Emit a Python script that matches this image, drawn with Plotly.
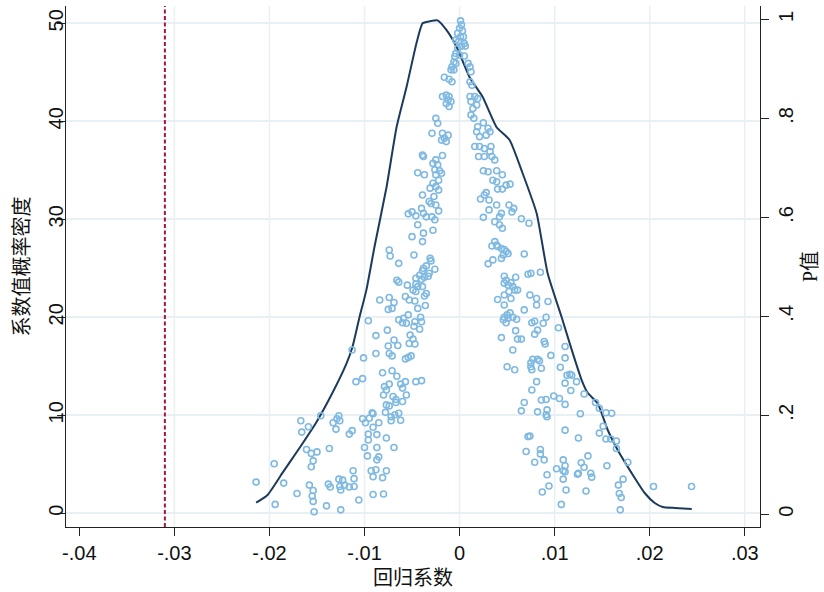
import plotly.graph_objects as go

# ---------------- data ----------------
# kernel density of the placebo coefficients (left axis)
dens_x = [-0.0214, -0.0202, -0.01863, -0.01684, -0.01505, -0.01337, -0.01189, -0.01126, -0.01053, -0.0098,
          -0.00895, -0.00768, -0.00663, -0.00558, -0.00453, -0.00389, -0.00316, -0.00232, -0.00137, -0.00032,
          0.00105, 0.00242, 0.00389, 0.00526, 0.00663, 0.00811, 0.00926, 0.01074, 0.01179, 0.01284,
          0.01347, 0.01453, 0.01558, 0.01663, 0.0181, 0.01947, 0.02053, 0.02137, 0.02263, 0.02442]
dens_y = [1.08, 1.87, 4.12, 6.66, 9.32, 12.3, 15.3, 17.0, 20.0, 22.8,
          27.2, 33.3, 39.4, 43.5, 48.0, 50.0, 50.2, 50.3, 49.3, 47.6,
          44.5, 42.5, 39.4, 38.1, 34.7, 30.6, 24.5, 20.0, 16.7, 13.6,
          12.3, 11.2, 8.5, 6.46, 4.1, 2.07, 1.05, 0.64, 0.54, 0.44]

# placebo coefficients and their p-values (right axis), upper part
coef_top = [0.0001, 0.0002, 0.0000, 0.0003, -0.0002, 0.0001, 0.0004, -0.0004, -0.0001, 0.0005,
            0.0002, -0.0002, 0.0006, -0.0004, -0.0005, 0.0000, 0.0005, -0.0006, -0.0004, -0.0008,
            0.0009, 0.0011, -0.0009, -0.0006, 0.0012, -0.0016, -0.0011, -0.0008, 0.0011, 0.0013,
            -0.0018, -0.0014, -0.0011, -0.0012, -0.0009, -0.0014, -0.0011, 0.0011, 0.0016, 0.0019,
            0.0012, 0.0018, 0.0014, -0.0025, -0.0023, -0.0029, -0.0018, -0.0012, -0.0016, -0.0019,
            -0.0014, 0.0012, 0.0015, 0.0025, 0.0019, 0.0018, 0.0030, 0.0032, 0.0028, 0.0021,
            0.0016, 0.0021, 0.0026, 0.0033, 0.0032, 0.0020, 0.0026, 0.0034, 0.0037, -0.0039,
            -0.0038, -0.0018, -0.0025, -0.0028, -0.0023, -0.0026, -0.0021, -0.0044, -0.0037, -0.0025,
            -0.0019, -0.0022, -0.0028, -0.0025, -0.0031, -0.0022, -0.0039, -0.0027, -0.0032, -0.0030,
            -0.0025, -0.0022, -0.0054, -0.0050, -0.0046, -0.0040, -0.0038, -0.0035, -0.0029, -0.0026,
            0.0025, 0.0030, 0.0039, 0.0045, 0.0035, 0.0039, 0.0040, 0.0045, 0.0049, 0.0053,
            0.0022, 0.0026, 0.0028, 0.0031, 0.0039, 0.0044, 0.0042, 0.0052, 0.0057, 0.0055,
            0.0031, 0.0025, 0.0037, 0.0042, 0.0045, 0.0065, 0.0073, -0.0044, -0.0038, -0.0028, -0.0050]
p_top = [0.997, 0.989, 0.982, 0.977, 0.972, 0.965, 0.965, 0.958, 0.955, 0.951,
         0.946, 0.941, 0.946, 0.931, 0.925, 0.928, 0.926, 0.914, 0.911, 0.904,
         0.911, 0.904, 0.898, 0.898, 0.894, 0.883, 0.879, 0.874, 0.874, 0.867,
         0.844, 0.847, 0.844, 0.837, 0.834, 0.830, 0.824, 0.844, 0.844, 0.840,
         0.834, 0.827, 0.820, 0.800, 0.790, 0.770, 0.770, 0.766, 0.760, 0.756,
         0.753, 0.807, 0.800, 0.791, 0.783, 0.773, 0.780, 0.773, 0.766, 0.763,
         0.743, 0.743, 0.739, 0.743, 0.733, 0.723, 0.723, 0.723, 0.716, 0.726,
         0.723, 0.725, 0.716, 0.709, 0.706, 0.696, 0.694, 0.690, 0.686, 0.686,
         0.689, 0.675, 0.669, 0.662, 0.659, 0.655, 0.645, 0.642, 0.632, 0.628,
         0.625, 0.613, 0.607, 0.611, 0.603, 0.618, 0.608, 0.601, 0.601, 0.595,
         0.694, 0.692, 0.694, 0.686, 0.675, 0.672, 0.657, 0.657, 0.665, 0.667,
         0.637, 0.645, 0.650, 0.635, 0.625, 0.608, 0.601, 0.625, 0.618, 0.611,
         0.615, 0.600, 0.591, 0.585, 0.578, 0.597, 0.588, 0.585, 0.568, 0.574, 0.561]

# lower-left branch
coef_left = [-0.0074, -0.0073, -0.0048, -0.0039, -0.0064, -0.0031, -0.0030, -0.0035, -0.0038, -0.0039,
             -0.0026, -0.0032, -0.0042, -0.0046, -0.0040, -0.0037, -0.0033, -0.0066, -0.0064, -0.0055,
             -0.0046, -0.0044, -0.0049, -0.0039, -0.0046, -0.0035, -0.0037, -0.0074, -0.0084, -0.0069,
             -0.0057, -0.0053, -0.0047, -0.0075, -0.0071, -0.0044, -0.0036, -0.0096, -0.0064, -0.0059,
             -0.0054, -0.0056, -0.0060, -0.0047, -0.0041, -0.0040, -0.0048, -0.0042, -0.0076, -0.0088,
             -0.0052, -0.0069, -0.0049, -0.0053, -0.0047, -0.0075, -0.0065, -0.0088, -0.0074, -0.0071,
             -0.0101, -0.0057, -0.0054, -0.0051, -0.0113, -0.0081, -0.0071, -0.0066, -0.0109, -0.0102,
             -0.0079, -0.0074, -0.0077, -0.0062, -0.0057, -0.0046, -0.0040, -0.0060, -0.0080, -0.0056,
             -0.0070, -0.0067, -0.0067, -0.0060, -0.0077, -0.0074, -0.0078, -0.0072, -0.0068, -0.0064,
             -0.0062, -0.0072, -0.0092, -0.0091, -0.0102, -0.0099, -0.0095, -0.0085, -0.0091, -0.0127,
             -0.0129, -0.0133, -0.0126, -0.0130, -0.0146, -0.0159, -0.0167, -0.0166, -0.0116, -0.0113,
             -0.0096, -0.0096, -0.0087, -0.0077, -0.0100, -0.0087, -0.0069, -0.0097, -0.0087, -0.0085,
             -0.0137, -0.0161, -0.0156, -0.0150, -0.0154, -0.0156, -0.0195, -0.0214, -0.0185, -0.0194,
             -0.0171, -0.0158, -0.0154, -0.0155, -0.0154, -0.0153, -0.0140, -0.0125, -0.0138, -0.0136,
             -0.0127, -0.0123, -0.0126, -0.0125, -0.0121, -0.0116, -0.0111, -0.0111, -0.0112, -0.0106,
             -0.0093, -0.0088, -0.0091, -0.0081, -0.0077, -0.0091, -0.0080]
p_left = [0.534, 0.522, 0.524, 0.551, 0.507, 0.517, 0.512, 0.502, 0.497, 0.492,
          0.495, 0.487, 0.483, 0.477, 0.475, 0.479, 0.481, 0.473, 0.469, 0.463,
          0.465, 0.460, 0.453, 0.460, 0.450, 0.446, 0.441, 0.438, 0.433, 0.428,
          0.440, 0.433, 0.431, 0.414, 0.416, 0.416, 0.422, 0.391, 0.393, 0.396,
          0.403, 0.386, 0.387, 0.389, 0.398, 0.389, 0.380, 0.374, 0.372, 0.361,
          0.362, 0.352, 0.354, 0.345, 0.344, 0.340, 0.341, 0.325, 0.325, 0.320,
          0.316, 0.314, 0.317, 0.320, 0.332, 0.286, 0.290, 0.279, 0.268, 0.274,
          0.258, 0.263, 0.251, 0.263, 0.268, 0.268, 0.270, 0.255, 0.241, 0.241,
          0.238, 0.232, 0.226, 0.228, 0.221, 0.219, 0.206, 0.197, 0.201, 0.204,
          0.190, 0.189, 0.205, 0.203, 0.193, 0.185, 0.194, 0.185, 0.176, 0.199,
          0.193, 0.185, 0.189, 0.172, 0.199, 0.177, 0.189, 0.166, 0.162, 0.169,
          0.162, 0.150, 0.161, 0.154, 0.135, 0.135, 0.135, 0.118, 0.110, 0.116,
          0.133, 0.131, 0.123, 0.126, 0.108, 0.096, 0.102, 0.065, 0.063, 0.020,
          0.042, 0.059, 0.048, 0.037, 0.026, 0.005, 0.017, 0.009, 0.061, 0.055,
          0.071, 0.069, 0.056, 0.049, 0.059, 0.055, 0.056, 0.072, 0.088, 0.029,
          0.088, 0.090, 0.076, 0.074, 0.088, 0.040, 0.041]

# lower-right branch
coef_right = [0.0037, 0.0039, 0.0034, 0.0040, 0.0044, 0.0047, 0.0049, 0.0051, 0.0046, 0.0044,
              0.0035, 0.0030, 0.0068, 0.0072, 0.0075, 0.0085, 0.0047, 0.0049, 0.0047, 0.0051,
              0.0054, 0.0056, 0.0059, 0.0058, 0.0061, 0.0052, 0.0047, 0.0054, 0.0040, 0.0047,
              0.0074, 0.0081, 0.0081, 0.0093, 0.0068, 0.0053, 0.0050, 0.0047, 0.0046, 0.0049,
              0.0051, 0.0056, 0.0060, 0.0076, 0.0079, 0.0088, 0.0091, 0.0082, 0.0079, 0.0059,
              0.0044, 0.0061, 0.0065, 0.0104, 0.0089, 0.0090, 0.0056, 0.0111, 0.0077, 0.0075,
              0.0082, 0.0084, 0.0075, 0.0076, 0.0086, 0.0050, 0.0058, 0.0096, 0.0111, 0.0106,
              0.0113, 0.0116, 0.0118, 0.0111, 0.0123, 0.0081, 0.0076, 0.0117, 0.0131, 0.0099,
              0.0105, 0.0086, 0.0091, 0.0068, 0.0065, 0.0082, 0.0092, 0.0091, 0.0092, 0.0111,
              0.0127, 0.0143, 0.0147, 0.0154, 0.0160, 0.0151, 0.0147, 0.0154, 0.0159, 0.0165,
              0.0165, 0.0177, 0.0111, 0.0125, 0.0074, 0.0072, 0.0070, 0.0085, 0.0085, 0.0079,
              0.0089, 0.0102, 0.0109, 0.0111, 0.0109, 0.0111, 0.0092, 0.0109, 0.0124, 0.0125,
              0.0128, 0.0131, 0.0135, 0.0138, 0.0139, 0.0155, 0.0172, 0.0167, 0.0168, 0.0170,
              0.0094, 0.0087, 0.0112, 0.0133, 0.0107, 0.0169, 0.0204, 0.0244]
p_right = [0.551, 0.544, 0.542, 0.541, 0.537, 0.535, 0.531, 0.527, 0.524, 0.517,
           0.514, 0.506, 0.526, 0.485, 0.487, 0.489, 0.481, 0.473, 0.467, 0.463,
           0.468, 0.460, 0.479, 0.453, 0.453, 0.450, 0.443, 0.436, 0.434, 0.423,
           0.443, 0.436, 0.423, 0.430, 0.413, 0.407, 0.403, 0.398, 0.393, 0.387,
           0.396, 0.398, 0.394, 0.387, 0.390, 0.386, 0.398, 0.372, 0.364, 0.371,
           0.357, 0.354, 0.354, 0.377, 0.349, 0.344, 0.332, 0.339, 0.313, 0.306,
           0.313, 0.310, 0.298, 0.292, 0.295, 0.298, 0.292, 0.321, 0.316, 0.297,
           0.281, 0.283, 0.281, 0.265, 0.268, 0.268, 0.251, 0.250, 0.243, 0.239,
           0.234, 0.231, 0.232, 0.226, 0.209, 0.207, 0.211, 0.201, 0.197, 0.222,
           0.203, 0.226, 0.214, 0.205, 0.204, 0.178, 0.164, 0.152, 0.152, 0.148,
           0.133, 0.105, 0.170, 0.154, 0.158, 0.157, 0.127, 0.131, 0.122, 0.105,
           0.110, 0.092, 0.110, 0.098, 0.088, 0.086, 0.080, 0.071, 0.081, 0.083,
           0.104, 0.095, 0.118, 0.083, 0.075, 0.098, 0.071, 0.059, 0.042, 0.034,
           0.057, 0.045, 0.049, 0.047, 0.020, 0.009, 0.056, 0.056]

true_coef = -0.031          # actual estimate (red dashed line)

x_ticks = [-0.04, -0.03, -0.02, -0.01, 0.0, 0.01, 0.02, 0.03]
x_labels = ["-.04", "-.03", "-.02", "-.01", "0", ".01", ".02", ".03"]
x_grid = [-0.03, -0.02, -0.01, 0.0, 0.01, 0.02, 0.03]
y_ticks = [0, 10, 20, 30, 40, 50]
y2_ticks = [0, 0.2, 0.4, 0.6, 0.8, 1.0]
y2_labels = ["0", ".2", ".4", ".6", ".8", "1"]

coef_all = coef_top + coef_left + coef_right
p_all = p_top + p_left + p_right

# ---------------- figure ----------------
GRID = "#E9F0F3"
TICKFONT = dict(family="Liberation Sans, Arial, sans-serif", size=20, color="#111111")
TITLEFONT = dict(family="Liberation Serif, Noto Sans CJK SC, serif", size=20, color="#111111")

fig = go.Figure()

fig.add_trace(go.Scatter(
    x=coef_all, y=p_all, yaxis="y2", mode="markers",
    marker=dict(symbol="circle-open", size=6, color="#7FB9E2", line=dict(width=1.6, color="#7FB9E2")),
    showlegend=False, hoverinfo="skip"))

fig.add_trace(go.Scatter(
    x=dens_x, y=dens_y, mode="lines",
    line=dict(color="#1B3A5C", width=2, shape="spline", smoothing=0.5),
    showlegend=False, hoverinfo="skip"))

for gx in x_grid:
    fig.add_shape(type="line", xref="x", yref="paper", x0=gx, x1=gx, y0=0, y1=1,
                  line=dict(color=GRID, width=1.5), layer="below")

fig.add_shape(type="line", xref="x", yref="paper", x0=true_coef, x1=true_coef, y0=0, y1=1,
              line=dict(color="#A3163F", width=2, dash="4px,2.5px"))

fig.update_layout(
    width=824, height=592,
    margin=dict(l=66, r=64, t=6, b=65),
    paper_bgcolor="white", plot_bgcolor="white",
    xaxis=dict(range=[-0.0414, 0.0316], tickvals=x_ticks, ticktext=x_labels,
               showgrid=False, zeroline=False, showline=True, linecolor="#222222", linewidth=1.4,
               ticks="outside", ticklen=8, tickwidth=1.4, tickcolor="#222222",
               tickfont=TICKFONT, automargin=False,
               title=dict(text="回归系数", font=TITLEFONT, standoff=7)),
    yaxis=dict(range=[-1.40, 51.77], tickvals=y_ticks, tickangle=-90,
               showgrid=True, gridcolor=GRID, gridwidth=1.5, zeroline=False,
               showline=True, linecolor="#222222", linewidth=1.4,
               ticks="outside", ticklen=8, tickwidth=1.4, tickcolor="#222222",
               tickfont=TICKFONT, automargin=False, ticklabelstandoff=-14,
               title=dict(text="系数值概率密度", font=TITLEFONT, standoff=9)),
    yaxis2=dict(range=[-0.0257, 1.027], tickvals=y2_ticks, ticktext=y2_labels, tickangle=-90,
                overlaying="y", side="right", showgrid=False, zeroline=False,
                showline=True, linecolor="#222222", linewidth=1.4,
                ticks="outside", ticklen=8, tickwidth=1.4, tickcolor="#222222",
                tickfont=TICKFONT, automargin=False,
                title=dict(text="P值", font=TITLEFONT, standoff=6)),
)

fig.write_html("out.html", post_script="document.body.style.margin='0';",
               config={"displayModeBar": False})
